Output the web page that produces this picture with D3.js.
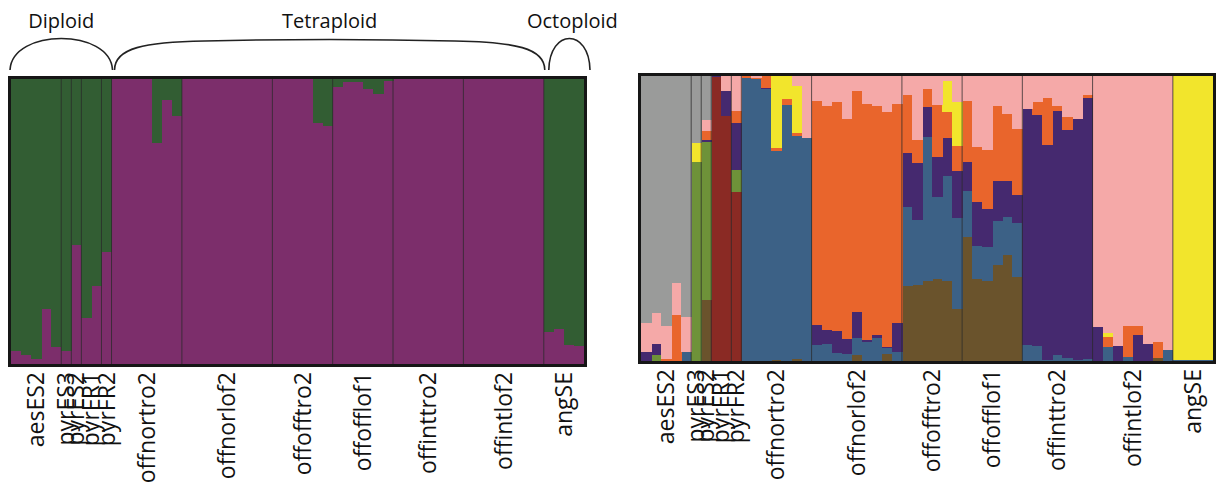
<!DOCTYPE html>
<html>
<head>
<meta charset="utf-8">
<script src="https://cdn.jsdelivr.net/npm/d3@7"></script>
<style>
  html, body { margin: 0; padding: 0; background: #fff; }
  svg text { font-family: "Open Sans", "Noto Sans", sans-serif; fill: #111; }
</style>
</head>
<body>
<svg id="chart" width="1217" height="486"></svg>
<script>
// Sampled populations and how many individuals each contributes
const populations = ["aesES2", "pyrES3", "pyrES2", "pyrFR1", "pyrFR2", "offnortro2", "offnorlof2",
                     "offofftro2", "offofflof1", "offinttro2", "offintlof2", "angSE"];
const popSizes = [5, 1, 1, 2, 1, 7, 9, 6, 6, 7, 8, 4];

// Ploidy groups spanning the populations (first and last population index)
const ploidyGroups = ["Diploid", "Tetraploid", "Octoploid"];
const ploidySpans = [[0, 4], [5, 10], [11, 11]];

// K = 2 membership coefficients, one value per individual
const k2Purple = [0.044, 0.030, 0.019, 0.193, 0.058,
  0.044,
  0.419,
  0.161, 0.273,
  0.393,
  1, 1, 1, 1, 0.775, 0.927, 0.869,
  1, 1, 1, 1, 1, 1, 1, 1, 1,
  1, 1, 1, 1, 0.846, 0.834,
  0.972, 0.988, 0.988, 0.965, 0.948, 0.992,
  1, 1, 1, 1, 1, 1, 1,
  1, 1, 1, 1, 1, 1, 1, 1,
  0.114, 0.123, 0.068, 0.062];
const k2Green = [0.956, 0.970, 0.981, 0.807, 0.942,
  0.956,
  0.581,
  0.839, 0.727,
  0.607,
  0, 0, 0, 0, 0.225, 0.073, 0.131,
  0, 0, 0, 0, 0, 0, 0, 0, 0,
  0, 0, 0, 0, 0.154, 0.166,
  0.028, 0.012, 0.012, 0.035, 0.052, 0.008,
  0, 0, 0, 0, 0, 0, 0,
  0, 0, 0, 0, 0, 0, 0, 0,
  0.886, 0.877, 0.932, 0.938];

// Higher K membership coefficients, stacked bottom to top in this order
const kBrown  = [0, 0, 0, 0, 0,  0,  0.215,  0, 0,  0,
  0, 0, 0, 0.005, 0, 0.007, 0,
  0, 0, 0, 0, 0.020, 0, 0, 0.024, 0,
  0.264, 0.267, 0.279, 0.287, 0.282, 0.181,
  0.435, 0.287, 0.279, 0.338, 0.373, 0.296,
  0, 0, 0, 0, 0, 0, 0,
  0, 0, 0, 0, 0, 0, 0.012, 0,
  0, 0, 0, 0];
const kBlue   = [0, 0, 0, 0, 0.032,  0,  0,  0, 0,  0,
  0.992, 0.988, 0.953, 0.733, 0.900, 0.784, 0.782,
  0.055, 0.061, 0.028, 0.024, 0.059, 0.067, 0.081, 0.020, 0.032,
  0.278, 0.227, 0.506, 0.289, 0.367, 0.321,
  0.161, 0.118, 0.121, 0.153, 0.133, 0.188,
  0.055, 0.052, 0.005, 0.020, 0.012, 0.005, 0.008,
  0, 0.049, 0, 0.014, 0, 0, 0, 0.040,
  0.004, 0.004, 0.004, 0.004];
const kRed    = [0, 0, 0, 0, 0,  0,  0,  0.995, 0.858,  0.593,
  0, 0, 0, 0, 0, 0, 0,
  0, 0, 0, 0, 0, 0, 0, 0, 0,
  0, 0, 0, 0, 0, 0,
  0, 0, 0, 0, 0, 0,
  0, 0, 0, 0, 0, 0, 0,
  0, 0, 0, 0, 0, 0, 0, 0,
  0, 0, 0, 0];
const kOlive  = [0, 0.020, 0, 0, 0,  0.699,  0.553,  0, 0,  0.077,
  0, 0, 0, 0, 0, 0, 0,
  0, 0, 0, 0, 0, 0, 0, 0, 0,
  0, 0, 0, 0, 0, 0,
  0, 0, 0, 0, 0, 0,
  0, 0, 0, 0, 0, 0, 0,
  0, 0, 0, 0, 0, 0, 0, 0,
  0, 0, 0, 0];
const kIndigo = [0.032, 0.039, 0, 0, 0,  0,  0.008,  0.005, 0.089,  0.165,
  0, 0, 0.006, 0, 0, 0, 0,
  0.071, 0.049, 0.076, 0.052, 0.094, 0.006, 0.009, 0.006, 0.100,
  0.188, 0.200, 0.106, 0.141, 0.135, 0.165,
  0.102, 0.153, 0.132, 0.141, 0.126, 0.100,
  0.829, 0.812, 0.753, 0.856, 0.800, 0.845, 0.915,
  0.120, 0, 0.052, 0, 0.091, 0.061, 0, 0,
  0, 0, 0, 0];
const kOrange = [0, 0, 0.006, 0.162, 0,  0,  0.030,  0, 0,  0.041,
  0.008, 0.004, 0.041, 0.008, 0.021, 0.009, 0,
  0.785, 0.784, 0.804, 0.773, 0.776, 0.829, 0.806, 0.823, 0.770,
  0.204, 0.082, 0.062, 0.181, 0.088, 0.086,
  0.215, 0.192, 0.209, 0.262, 0.235, 0.229,
  0, 0.044, 0.165, 0.018, 0.044, 0, 0.011,
  0, 0.035, 0, 0.108, 0.032, 0, 0.055, 0,
  0, 0, 0, 0];
const kYellow = [0, 0, 0, 0, 0,  0.065,  0,  0, 0,  0,
  0, 0, 0, 0.254, 0.079, 0.165, 0,
  0, 0, 0, 0, 0, 0, 0, 0, 0,
  0, 0, 0, 0, 0.112, 0.155,
  0, 0, 0, 0, 0, 0,
  0, 0, 0, 0, 0, 0, 0,
  0, 0.015, 0, 0, 0, 0, 0, 0,
  0.996, 0.996, 0.996, 0.996];
const kPink   = [0.100, 0.109, 0.118, 0.110, 0.124,  0,  0.041,  0, 0.053,  0.124,
  0, 0.008, 0, 0, 0, 0.035, 0.218,
  0.089, 0.106, 0.092, 0.151, 0.051, 0.098, 0.104, 0.127, 0.098,
  0.066, 0.224, 0.047, 0.102, 0.016, 0.092,
  0.087, 0.250, 0.259, 0.106, 0.133, 0.187,
  0.116, 0.092, 0.077, 0.106, 0.144, 0.150, 0.066,
  0.880, 0.901, 0.948, 0.878, 0.877, 0.939, 0.933, 0.960,
  0, 0, 0, 0];
const kGray   = [0.868, 0.832, 0.876, 0.728, 0.844,  0.236,  0.153,  0, 0,  0,
  0, 0, 0, 0, 0, 0, 0,
  0, 0, 0, 0, 0, 0, 0, 0, 0,
  0, 0, 0, 0, 0, 0,
  0, 0, 0, 0, 0, 0,
  0, 0, 0, 0, 0, 0, 0,
  0, 0, 0, 0, 0, 0, 0, 0,
  0, 0, 0, 0];

const svg = d3.select("#chart");

// Individuals with their population index
const individuals = [];
popSizes.forEach((n, p) => { for (let i = 0; i < n; i++) individuals.push({ pop: p }); });
const nInd = individuals.length;

function buildRows(series) {
  return d3.range(nInd).map(i => {
    const row = { idx: i };
    series.forEach(s => { row[s.key] = s.values[i]; });
    return row;
  });
}

function drawPanel(cfg) {
  const g = svg.append("g");
  const x = d3.scaleBand().domain(d3.range(nInd)).range([cfg.x0, cfg.x1]).padding(0);
  const y = d3.scaleLinear().domain([0, 1]).range([cfg.y1, cfg.y0]);

  const clipId = "clip-" + cfg.id;
  svg.append("clipPath").attr("id", clipId)
    .append("rect").attr("x", cfg.x0).attr("y", cfg.y0)
    .attr("width", cfg.x1 - cfg.x0).attr("height", cfg.y1 - cfg.y0);

  const rows = buildRows(cfg.series);
  const stack = d3.stack().keys(cfg.series.map(s => s.key));
  const layers = stack(rows);

  const bars = g.append("g").attr("clip-path", `url(#${clipId})`);
  bars.selectAll("g.layer")
    .data(layers)
    .join("g")
    .attr("class", "layer")
    .attr("fill", (d, i) => cfg.series[i].color)
    .selectAll("rect")
    .data(d => d)
    .join("rect")
    .attr("x", (d, i) => x(i))
    .attr("width", x.bandwidth() + 0.6)
    .attr("y", d => y(d[1]))
    .attr("height", d => Math.max(0, y(d[0]) - y(d[1])))
    .attr("shape-rendering", "crispEdges");

  // Population dividers
  const starts = d3.cumsum([0].concat(popSizes.slice(0, -1)));
  g.append("g").selectAll("line")
    .data(starts.slice(1))
    .join("line")
    .attr("x1", d => x(d)).attr("x2", d => x(d))
    .attr("y1", cfg.y0).attr("y2", cfg.y1)
    .attr("stroke", "#2a2a2a")
    .attr("stroke-opacity", 0.75)
    .attr("stroke-width", 1);

  // Frame
  g.append("rect")
    .attr("x", cfg.x0 - 1.5).attr("y", cfg.y0 - 1.5)
    .attr("width", cfg.x1 - cfg.x0 + 3).attr("height", cfg.y1 - cfg.y0 + 3)
    .attr("fill", "none").attr("stroke", "#161616").attr("stroke-width", 3);

  // Population names, rotated under each block
  g.append("g").selectAll("text")
    .data(populations)
    .join("text")
    .attr("transform", (d, p) => {
      const cx = x(starts[p]) + popSizes[p] * x.bandwidth() / 2 - 1;
      return `translate(${cx},${cfg.y1 + cfg.labelGap}) rotate(-90)`;
    })
    .attr("text-anchor", "end")
    .attr("dominant-baseline", "central")
    .style("font-size", "23px")
    .text(d => d);

  return { x, starts };
}

const left = drawPanel({
  id: "k2", x0: 11, x1: 584, y0: 79, y1: 364, labelGap: 8,
  series: [
    { key: "purple", values: k2Purple, color: "#7c2e6b" },
    { key: "green", values: k2Green, color: "#325d33" }
  ]
});

drawPanel({
  id: "k9", x0: 641, x1: 1213, y0: 76, y1: 361, labelGap: 8,
  series: [
    { key: "brown", values: kBrown, color: "#6a532c" },
    { key: "blue", values: kBlue, color: "#3c6186" },
    { key: "red", values: kRed, color: "#8a2a24" },
    { key: "olive", values: kOlive, color: "#6e9239" },
    { key: "indigo", values: kIndigo, color: "#45296f" },
    { key: "orange", values: kOrange, color: "#e9652c" },
    { key: "yellow", values: kYellow, color: "#f2e52c" },
    { key: "pink", values: kPink, color: "#f5a9a8" },
    { key: "gray", values: kGray, color: "#9a9b9a" }
  ]
});

// Ploidy braces above the K = 2 panel
const braceBase = 70;
const braces = svg.append("g");
ploidySpans.forEach((span, k) => {
  const [a, b] = span;
  const xa = left.x(left.starts[a]) + (k === 0 ? -1 : (k === 2 ? 5 : 3));
  const xb = left.x(left.starts[b]) + popSizes[b] * left.x.bandwidth() + (k === ploidySpans.length - 1 ? 6 : 1);
  const w = xb - xa;
  let d;
  if (w > 200) {
    d = `M${xa},${braceBase} C${xa},${braceBase - 22} ${xa + 30},${braceBase - 28} ${xa + 90},${braceBase - 29}` +
        ` C${xa + w * 0.4},${braceBase - 31} ${xb - w * 0.4},${braceBase - 31} ${xb - 90},${braceBase - 29}` +
        ` C${xb - 30},${braceBase - 28} ${xb},${braceBase - 22} ${xb},${braceBase}`;
  } else {
    d = `M${xa},${braceBase} C${xa + w * 0.02},${braceBase - 42} ${xb - w * 0.02},${braceBase - 42} ${xb},${braceBase}`;
  }
  braces.append("path").attr("d", d)
    .attr("fill", "none").attr("stroke", "#222").attr("stroke-width", 1.6);
  braces.append("text")
    .attr("x", (xa + xb) / 2 + (k === 2 ? 3 : 0))
    .attr("y", 28)
    .attr("text-anchor", "middle")
    .style("font-size", "20px")
    .text(ploidyGroups[k]);
});
</script>
</body>
</html>
